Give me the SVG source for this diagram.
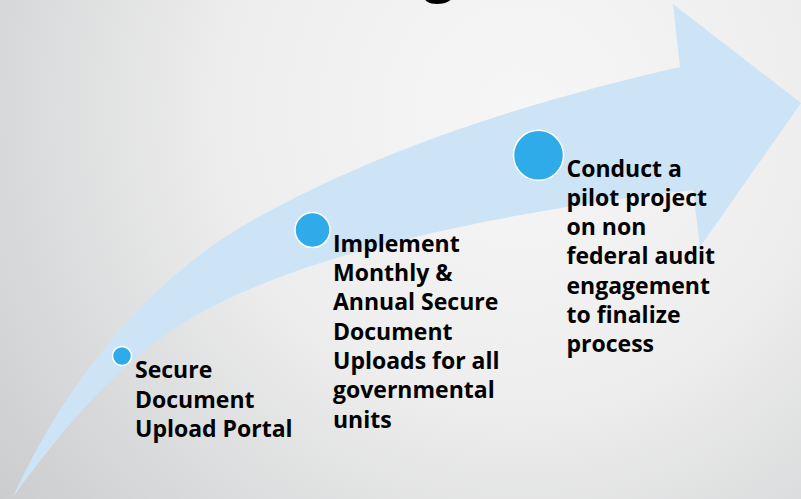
<svg xmlns="http://www.w3.org/2000/svg" width="801" height="499" viewBox="0 0 801 499">
  <defs>
    <radialGradient id="bg" gradientUnits="userSpaceOnUse" cx="520" cy="110" r="720">
      <stop offset="0" stop-color="#f6f6f6"/>
      <stop offset="0.4" stop-color="#eeeeee"/>
      <stop offset="1" stop-color="#c4c6c8"/>
    </radialGradient>
  </defs>
  <style>
    .lbl { font-family: "Open Sans", "Noto Sans", "Liberation Sans", sans-serif; font-weight: bold; font-size: 23px; fill: #000; }
    .dot { fill: #2fabe9; stroke: #ffffff; stroke-width: 1.5; }
    .arrow { fill: #cde3f6; }
  </style>
  <rect x="0" y="0" width="801" height="499" fill="url(#bg)"/>
  <text x="424" y="-9" style="font-family: 'Open Sans', 'Liberation Sans', sans-serif; font-weight: bold; font-size: 54px; fill:#000">g</text>
  <g id="connectors">
    <path class="arrow" d="M13,497 C63.5,386 146.5,279.6 253,220 C384.8,146.2 532.8,100.9 680,67 L673,4 L801,103 L700,247 L693,190 C525.2,209.3 322.6,245.5 200,313 C123.8,354.9 64.3,426.7 13,497 Z"/>
  </g>
  <g id="node1">
    <circle class="dot" cx="122" cy="356" r="9.5"/>
    <text class="lbl" x="135"><tspan x="135" y="378">Secure</tspan><tspan x="135" y="407.5">Document</tspan><tspan x="135" y="437">Upload Portal</tspan></text>
  </g>
  <g id="node2">
    <circle class="dot" cx="312.5" cy="230" r="17.5"/>
    <text class="lbl"><tspan x="333" y="251.7">Implement</tspan><tspan x="333" y="281">Monthly &amp;</tspan><tspan x="333" y="310.3">Annual Secure</tspan><tspan x="333" y="339.6">Document</tspan><tspan x="333" y="368.9">Uploads for all</tspan><tspan x="333" y="398.2">governmental</tspan><tspan x="333" y="427.5">units</tspan></text>
  </g>
  <g id="node3">
    <circle class="dot" cx="538.5" cy="155.3" r="25"/>
    <text class="lbl"><tspan x="566.5" y="176.7">Conduct a</tspan><tspan x="566.5" y="205.9">pilot project</tspan><tspan x="566.5" y="235.1">on non</tspan><tspan x="566.5" y="264.3">federal audit</tspan><tspan x="566.5" y="293.5">engagement</tspan><tspan x="566.5" y="322.7">to finalize</tspan><tspan x="566.5" y="351.9">process</tspan></text>
  </g>
</svg>
